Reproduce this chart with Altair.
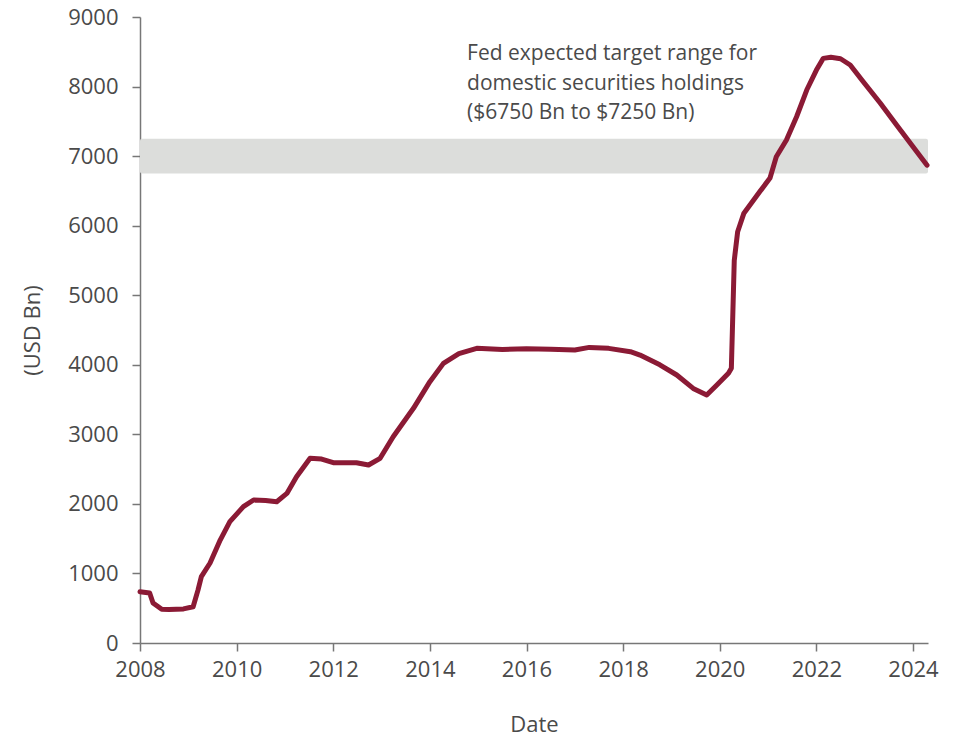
import altair as alt
import pandas as pd

years = [2008.0, 2008.2, 2008.27, 2008.45, 2008.6, 2008.9, 2009.1, 2009.2, 2009.27, 2009.45,
         2009.66, 2009.86, 2010.14, 2010.35, 2010.6, 2010.83, 2011.04, 2011.24, 2011.52, 2011.76,
         2012.0, 2012.48, 2012.73, 2012.97, 2013.24, 2013.66, 2014.0, 2014.28, 2014.6, 2014.97,
         2015.5, 2016.0, 2016.5, 2017.0, 2017.3, 2017.7, 2018.15, 2018.35, 2018.76, 2019.11,
         2019.45, 2019.73, 2019.94, 2020.18, 2020.24, 2020.3, 2020.37, 2020.5, 2020.83, 2021.04,
         2021.17, 2021.38, 2021.59, 2021.8, 2022.0, 2022.14, 2022.3, 2022.5, 2022.7, 2022.97,
         2023.32, 2023.66, 2024.0, 2024.29]
holdings = [737, 718, 575, 484, 480, 490, 522, 760, 954, 1150,
            1480, 1744, 1960, 2056, 2050, 2031, 2151, 2391, 2655, 2645,
            2592, 2592, 2559, 2655, 2966, 3374, 3757, 4020, 4160, 4236,
            4220, 4230, 4225, 4212, 4250, 4236, 4188, 4140, 4000, 3853,
            3660, 3565, 3709, 3877, 3950, 5500, 5913, 6180, 6490, 6685,
            6990, 7231, 7566, 7950, 8237, 8405, 8420, 8400, 8310, 8070,
            7763, 7447, 7135, 6870]

band_low = [6750]
band_high = [7250]
x_start = 2008.0
x_end = 2024.31

note_lines = ["Fed expected target range for",
              "domestic securities holdings",
              "($6750 Bn to $7250 Bn)"]
note_x = [2014.77, 2014.77, 2014.77]
note_y = [8381, 7950, 7533]

x_ticks = [2008, 2010, 2012, 2014, 2016, 2018, 2020, 2022, 2024]
y_ticks = [0, 1000, 2000, 3000, 4000, 5000, 6000, 7000, 8000, 9000]

FONT = "Open Sans"
TXT = "#4a4a4a"
AX = "#777777"

line_df = pd.DataFrame({"year": years, "value": holdings})
band_df = pd.DataFrame({"x": [x_start], "x2": [x_end], "y": band_low, "y2": band_high})
note_df = pd.DataFrame({"x": note_x, "y": note_y, "text": note_lines})

xscale = alt.Scale(domain=[x_start, x_end], nice=False, zero=False)
yscale = alt.Scale(domain=[0, 9000], nice=False)

band = alt.Chart(band_df).mark_rect(color="#dcdddb", cornerRadius=2).encode(
    x=alt.X("x:Q", scale=xscale),
    x2="x2:Q",
    y=alt.Y("y:Q", scale=yscale),
    y2="y2:Q",
)

line = alt.Chart(line_df).mark_line(color="#8b1a35", strokeWidth=5, strokeCap="round",
                                    strokeJoin="round").encode(
    x=alt.X("year:Q", scale=xscale,
            axis=alt.Axis(title="Date", values=x_ticks, format="d", grid=False,
                          domainColor=AX, tickColor=AX, tickSize=8, domainWidth=1.5,
                          tickWidth=1.5, labelFontSize=22, labelColor=TXT, labelFont=FONT,
                          labelPadding=8, titleFont=FONT, titleFontSize=22,
                          titleFontWeight="normal", titleColor=TXT,
                          titleX=394, titleY=81, titleBaseline="middle",
                          labelFlush=False)),
    y=alt.Y("value:Q", scale=yscale,
            axis=alt.Axis(title="(USD Bn)", values=y_ticks, format="d", grid=False,
                          domainColor=AX, tickColor=AX, tickSize=8, domainWidth=1.5,
                          tickWidth=1.5, labelFontSize=22, labelColor=TXT, labelFont=FONT,
                          labelPadding=14, titleFont=FONT, titleFontSize=22,
                          titleFontWeight="normal", titleColor=TXT,
                          titleX=-108, titleY=313, titleAngle=-90,
                          titleAlign="center", titleBaseline="middle")),
)

note = alt.Chart(note_df).mark_text(align="left", baseline="alphabetic", font=FONT,
                                    fontSize=21, color=TXT).encode(
    x=alt.X("x:Q", scale=xscale),
    y=alt.Y("y:Q", scale=yscale),
    text="text:N",
)

chart = alt.layer(band, line, note).properties(
    width=788, height=626,
    autosize=alt.AutoSizeParams(type="none"),
    padding={"left": 140, "top": 17, "right": 32, "bottom": 93},
    background="white",
).configure_view(stroke=None)

chart.save("out.html", embed_options={"renderer": "svg", "actions": False})
